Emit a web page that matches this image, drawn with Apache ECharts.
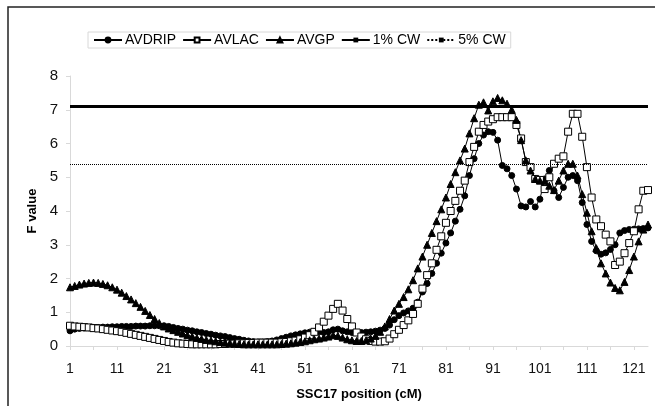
<!DOCTYPE html>
<html>
<head>
<meta charset="utf-8">
<script src="https://cdn.jsdelivr.net/npm/echarts@6/dist/echarts.min.js"></script>
<style>
  html, body { margin: 0; padding: 0; background: #fff; }
  #chart { width: 655px; height: 406px; }
</style>
</head>
<body>
<div id="chart"></div>
<script>
// positions 1..124 cM on SSC17
var positions = [];
for (var i = 1; i <= 124; i++) positions.push(String(i));

var avdrip = [
  0.45, 0.50, 0.52, 0.53, 0.54, 0.55, 0.55, 0.56, 0.56, 0.57,
  0.57, 0.58, 0.58, 0.58, 0.59, 0.59, 0.59, 0.60, 0.60, 0.60,
  0.60, 0.58, 0.55, 0.52, 0.50, 0.47, 0.45, 0.42, 0.40, 0.37,
  0.35, 0.32, 0.30, 0.28, 0.25, 0.22, 0.20, 0.17, 0.15, 0.13,
  0.12, 0.12, 0.13, 0.15, 0.18, 0.22, 0.26, 0.30, 0.33, 0.36,
  0.39, 0.41, 0.42, 0.42, 0.40, 0.42, 0.48, 0.50, 0.45, 0.42,
  0.40, 0.40, 0.40, 0.41, 0.42, 0.44, 0.47, 0.52, 0.62, 0.78,
  0.90, 0.98, 1.04, 1.12, 1.30, 1.60, 1.85, 2.15, 2.45, 2.75,
  3.05, 3.35, 3.70, 4.05, 4.45, 5.05, 5.55, 6.00, 6.25, 6.35,
  6.33, 6.10, 5.35, 5.25, 5.05, 4.65, 4.15, 4.12, 4.28, 4.12,
  4.35, 4.95, 5.20, 4.60, 4.40, 4.70, 5.00, 5.05, 4.90, 4.25,
  3.60, 3.10, 2.82, 2.72, 2.76, 2.86, 3.00, 3.35, 3.42, 3.45,
  3.46, 3.47, 3.48, 3.50
];

var avlac = [
  0.60, 0.58, 0.57, 0.56, 0.55, 0.53, 0.52, 0.50, 0.48, 0.46,
  0.44, 0.42, 0.39, 0.36, 0.33, 0.30, 0.27, 0.24, 0.21, 0.18,
  0.15, 0.12, 0.10, 0.08, 0.07, 0.06, 0.05, 0.05, 0.05, 0.05,
  0.05, 0.05, 0.06, 0.06, 0.07, 0.07, 0.08, 0.08, 0.09, 0.09,
  0.10, 0.10, 0.10, 0.10, 0.10, 0.11, 0.12, 0.14, 0.16, 0.20,
  0.25, 0.32, 0.42, 0.55, 0.72, 0.90, 1.10, 1.25, 1.05, 0.80,
  0.58, 0.40, 0.28, 0.20, 0.15, 0.13, 0.13, 0.14, 0.22, 0.35,
  0.48, 0.62, 0.76, 0.95, 1.25, 1.70, 2.10, 2.45, 2.85, 3.25,
  3.65, 4.00, 4.30, 4.60, 4.90, 5.45, 5.90, 6.35, 6.55, 6.65,
  6.72, 6.78, 6.78, 6.78, 6.78, 6.55, 6.15, 5.45, 5.30, 4.95,
  4.92, 4.65, 5.00, 5.40, 5.55, 5.62, 6.35, 6.88, 6.88, 6.20,
  5.30, 4.40, 3.75, 3.55, 3.30, 3.10, 2.40, 2.50, 2.75, 3.05,
  3.40, 4.05, 4.60, 4.62
];

var avgp = [
  1.74, 1.78, 1.82, 1.85, 1.87, 1.88, 1.87, 1.84, 1.80, 1.74,
  1.67, 1.58, 1.48, 1.38, 1.27, 1.16, 1.04, 0.92, 0.80, 0.68,
  0.58, 0.52, 0.47, 0.42, 0.37, 0.32, 0.28, 0.24, 0.21, 0.18,
  0.16, 0.14, 0.12, 0.10, 0.08, 0.07, 0.06, 0.05, 0.05, 0.05,
  0.05, 0.05, 0.05, 0.05, 0.05, 0.06, 0.07, 0.08, 0.10, 0.12,
  0.14, 0.17, 0.20, 0.22, 0.25, 0.28, 0.32, 0.30, 0.25, 0.20,
  0.17, 0.15, 0.15, 0.17, 0.22, 0.30, 0.42, 0.58, 0.80, 1.05,
  1.25, 1.45, 1.68, 1.95, 2.30, 2.65, 3.00, 3.35, 3.70, 4.05,
  4.40, 4.80, 5.15, 5.50, 5.85, 6.30, 6.75, 7.15, 7.22, 6.98,
  7.25, 7.35, 7.28, 7.18, 7.00, 6.70, 6.10, 5.50, 5.20, 4.95,
  4.90, 4.88, 4.75, 4.62, 4.90, 5.20, 5.40, 5.40, 5.05, 4.50,
  3.95, 3.40, 2.90, 2.45, 2.15, 1.88, 1.72, 1.65, 1.90, 2.25,
  2.65, 3.10, 3.45, 3.60
];

// significance thresholds (chromosome-wise)
var cw1 = 7.1;
var cw5 = 5.4;

var yTicks = [0, 1, 2, 3, 4, 5, 6, 7, 8];

var chart = echarts.init(document.getElementById('chart'));

function markerSeries(name, data, symbol, size, fill) {
  return {
    name: name,
    type: 'line',
    data: data,
    symbol: symbol,
    symbolSize: size,
    showAllSymbol: true,
    itemStyle: { color: fill, borderColor: '#000', borderWidth: 1 },
    lineStyle: { color: '#000', width: 1 }
  };
}

function thresholdSeries(name, value, width, type) {
  return {
    name: name,
    type: 'line',
    data: [],
    symbol: 'rect',
    symbolSize: 4,
    itemStyle: { color: '#000' },
    lineStyle: { color: '#000', width: width, type: type },
    markLine: {
      silent: true,
      symbol: 'none',
      label: { show: false },
      lineStyle: { color: '#000', width: width, type: type },
      data: [{ yAxis: value }]
    }
  };
}

chart.setOption({
  animation: false,
  textStyle: { fontFamily: 'Liberation Sans, Arial, sans-serif' },
  graphic: [{
    type: 'rect',
    shape: { x: 8, y: 7, width: 660, height: 410 },
    style: { fill: 'none', stroke: '#222', lineWidth: 1.5 },
    silent: true
  }],
  legend: {
    left: 88,
    top: 32,
    padding: [1, 5],
    itemWidth: 28,
    itemHeight: 6,
    itemGap: 6,
    borderColor: '#d8d8d8',
    borderWidth: 1,
    textStyle: { fontSize: 14, color: '#000', padding: [0, 0, 0, -2], fontFamily: 'Liberation Sans, Arial, sans-serif' },
    data: ['AVDRIP', 'AVLAC', 'AVGP', '1% CW', '5% CW']
  },
  grid: {
    left: 70,
    right: 7,
    top: 76,
    bottom: 59
  },
  xAxis: {
    type: 'category',
    data: positions,
    boundaryGap: false,
    name: 'SSC17 position (cM)',
    nameLocation: 'middle',
    nameGap: 42,
    nameTextStyle: { fontSize: 13, fontWeight: 'bold', color: '#000' },
    axisLine: { lineStyle: { color: '#d9d9d9' } },
    axisTick: { interval: 4, length: 4, lineStyle: { color: '#d9d9d9' } },
    axisLabel: { interval: 9, fontSize: 14, color: '#111', margin: 16 },
    splitLine: { show: false }
  },
  yAxis: {
    type: 'value',
    min: yTicks[0],
    max: yTicks[yTicks.length - 1],
    interval: 1,
    name: 'F value',
    nameLocation: 'middle',
    nameGap: 28,
    nameRotate: 90,
    nameTextStyle: { fontSize: 13, fontWeight: 'bold', color: '#000' },
    axisLine: { show: true, lineStyle: { color: '#d9d9d9' } },
    axisTick: { show: true, length: 4, lineStyle: { color: '#d9d9d9' } },
    axisLabel: { fontSize: 15, color: '#111', margin: 12 },
    splitLine: { show: false }
  },
  series: [
    markerSeries('AVDRIP', avdrip, 'circle', 6, '#000'),
    markerSeries('AVLAC', avlac, 'rect', 7, '#fff'),
    markerSeries('AVGP', avgp, 'triangle', 7, '#000'),
    thresholdSeries('1% CW', cw1, 3, 'solid'),
    thresholdSeries('5% CW', cw5, 1, 'dotted')
  ]
});
</script>
</body>
</html>
